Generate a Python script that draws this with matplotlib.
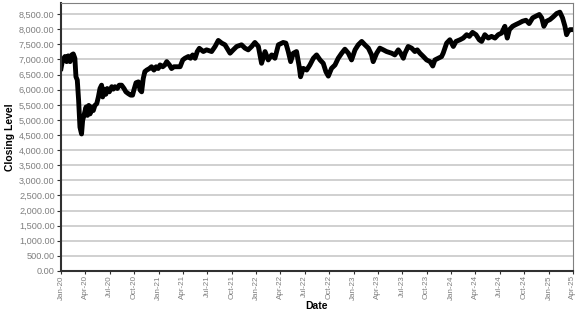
import pandas as pd
import matplotlib
matplotlib.use("Agg")
import matplotlib.pyplot as plt
import matplotlib.dates as mdates
from matplotlib.ticker import FuncFormatter, MultipleLocator

plt.rcParams['font.family'] = ['Liberation Sans', 'DejaVu Sans']

# closing level
dates = [
    '2020-01-01', '2020-01-07', '2020-01-16', '2020-01-22', '2020-01-28', '2020-02-04',
    '2020-02-10', '2020-02-16', '2020-02-22', '2020-02-26', '2020-03-02', '2020-03-07',
    '2020-03-12', '2020-03-18', '2020-03-22', '2020-03-27', '2020-04-04', '2020-04-09',
    '2020-04-14', '2020-04-19', '2020-04-25', '2020-05-01', '2020-05-07', '2020-05-14',
    '2020-05-20', '2020-05-26', '2020-06-01', '2020-06-05', '2020-06-10', '2020-06-17',
    '2020-06-22', '2020-06-30', '2020-07-09', '2020-07-15', '2020-07-21', '2020-07-30',
    '2020-08-06', '2020-08-15', '2020-08-24', '2020-08-31', '2020-09-09', '2020-09-18',
    '2020-09-25', '2020-09-30', '2020-10-08', '2020-10-17', '2020-10-23', '2020-10-29',
    '2020-11-04', '2020-11-10', '2020-11-17', '2020-11-27', '2020-12-05', '2020-12-14',
    '2020-12-22', '2020-12-30', '2021-01-06', '2021-01-16', '2021-01-24', '2021-01-31',
    '2021-02-10', '2021-02-18', '2021-02-27', '2021-03-09', '2021-03-22', '2021-04-01',
    '2021-04-09', '2021-04-22', '2021-04-30', '2021-05-08', '2021-05-17', '2021-05-25',
    '2021-06-02', '2021-06-17', '2021-06-29', '2021-07-18', '2021-07-31', '2021-08-12',
    '2021-08-25', '2021-09-06', '2021-09-25', '2021-10-07', '2021-10-20', '2021-11-07',
    '2021-11-20', '2021-12-02', '2021-12-15', '2021-12-27', '2022-01-09', '2022-01-21',
    '2022-02-03', '2022-02-15', '2022-02-28', '2022-03-12', '2022-03-25', '2022-04-12',
    '2022-04-22', '2022-05-01', '2022-05-10', '2022-05-20', '2022-06-01', '2022-06-11',
    '2022-06-16', '2022-06-26', '2022-07-09', '2022-07-21', '2022-08-03', '2022-08-15',
    '2022-08-28', '2022-09-09', '2022-09-19', '2022-09-28', '2022-10-10', '2022-10-23',
    '2022-11-04', '2022-11-17', '2022-11-29', '2022-12-12', '2022-12-24', '2023-01-06',
    '2023-01-18', '2023-01-31', '2023-02-12', '2023-02-25', '2023-03-09', '2023-03-15',
    '2023-03-28', '2023-04-09', '2023-04-22', '2023-05-04', '2023-05-23', '2023-06-04',
    '2023-06-17', '2023-06-26', '2023-07-06', '2023-07-12', '2023-07-24', '2023-08-06',
    '2023-08-18', '2023-08-27', '2023-09-06', '2023-09-19', '2023-10-01', '2023-10-14',
    '2023-10-24', '2023-11-01', '2023-11-14', '2023-11-26', '2023-12-02', '2023-12-15',
    '2023-12-27', '2024-01-09', '2024-01-19', '2024-02-03', '2024-02-15', '2024-02-28',
    '2024-03-09', '2024-03-21', '2024-04-03', '2024-04-15', '2024-04-24', '2024-05-06',
    '2024-05-19', '2024-05-31', '2024-06-13', '2024-06-25', '2024-07-08', '2024-07-20',
    '2024-07-29', '2024-08-06', '2024-08-18', '2024-08-30', '2024-09-12', '2024-09-24',
    '2024-10-07', '2024-10-19', '2024-11-01', '2024-11-13', '2024-11-26', '2024-12-05',
    '2024-12-13', '2024-12-23', '2025-01-05', '2025-01-17', '2025-01-30', '2025-02-11',
    '2025-02-21', '2025-03-02', '2025-03-08', '2025-03-14', '2025-03-21', '2025-03-27',
]
closing = [
    6700, 6985, 7100, 6930, 7120, 6930,
    7150, 7185, 7040, 6430, 6320, 5650,
    4760, 4535, 4980, 5150, 5430, 5150,
    5480, 5200, 5430, 5310, 5480, 5540,
    5760, 6040, 6150, 5760, 6020, 5850,
    6040, 5930, 6100, 6020, 6100, 6040,
    6150, 6150, 6040, 5930, 5870, 5820,
    5820, 5990, 6230, 6260, 5990, 5930,
    6370, 6600, 6650, 6700, 6760, 6650,
    6760, 6700, 6820, 6760, 6820, 6930,
    6820, 6700, 6760, 6760, 6760, 6985,
    7040, 7100, 7040, 7150, 7040, 7260,
    7370, 7263, 7319, 7263, 7431, 7631,
    7542, 7486, 7208, 7319, 7431, 7486,
    7375, 7319, 7431, 7564, 7431, 6874,
    7263, 6985, 7152, 7041, 7486, 7564,
    7542, 7263, 6929, 7208, 7263, 6762,
    6428, 6707, 6651, 6818, 7041, 7152,
    6985, 6874, 6595, 6450, 6707, 6818,
    7041, 7208, 7341, 7208, 6985, 7319,
    7486, 7598, 7486, 7375, 7152, 6929,
    7208, 7375, 7319, 7263, 7208, 7152,
    7319, 7208, 7041, 7208, 7431, 7375,
    7263, 7319, 7208, 7096, 6985, 6929,
    6784, 6985, 7041, 7096, 7208, 7542,
    7653, 7431, 7598, 7653, 7709, 7820,
    7765, 7898, 7820, 7653, 7598, 7820,
    7709, 7765, 7709, 7820, 7876, 8099,
    7709, 7988, 8099, 8155, 8210, 8266,
    8299, 8188, 8377, 8433, 8489, 8377,
    8099, 8266, 8322, 8411, 8522, 8567,
    8377, 8099, 7820, 7932, 7988, 7988,
]

x = pd.to_datetime(dates)

fig = plt.figure(figsize=(5.77, 3.15), dpi=100)
ax = fig.add_axes([0.1057, 0.1397, 0.8873, 0.8508])

ax.plot(x, closing, color='black', lw=3.5, solid_joinstyle='round')

ax.set_ylim(0, 8870)
ax.yaxis.set_major_locator(MultipleLocator(500))
ax.yaxis.set_major_formatter(FuncFormatter(lambda v, p: '{:,.2f}'.format(v)))
ax.set_xlim(pd.Timestamp('2020-01-01'), pd.Timestamp('2025-04-01'))
ax.xaxis.set_major_locator(mdates.MonthLocator(bymonth=[1, 4, 7, 10]))
ax.xaxis.set_major_formatter(mdates.DateFormatter('%b-%y'))

ax.grid(axis='y', color='#c8c8c8', lw=1.2)
ax.set_axisbelow(True)
for s in ['top', 'right']:
    ax.spines[s].set_color('#808080')
    ax.spines[s].set_linewidth(0.8)
for s in ['left', 'bottom']:
    ax.spines[s].set_color('#303030')
    ax.spines[s].set_linewidth(1.5)

ax.tick_params(axis='y', labelsize=6.6, labelcolor='#7f7f7f', color='#303030',
               length=3, width=0.8, pad=1.5)
ax.tick_params(axis='x', labelsize=5.8, labelcolor='#7f7f7f', color='#303030',
               length=2, width=0.8, pad=1, labelrotation=90)

ax.set_xlabel('Date', fontsize=7.5, fontweight='bold', labelpad=1)
ax.set_ylabel('Closing Level', fontsize=7.5, fontweight='bold', labelpad=3)

fig.savefig('out.png', dpi=100)
